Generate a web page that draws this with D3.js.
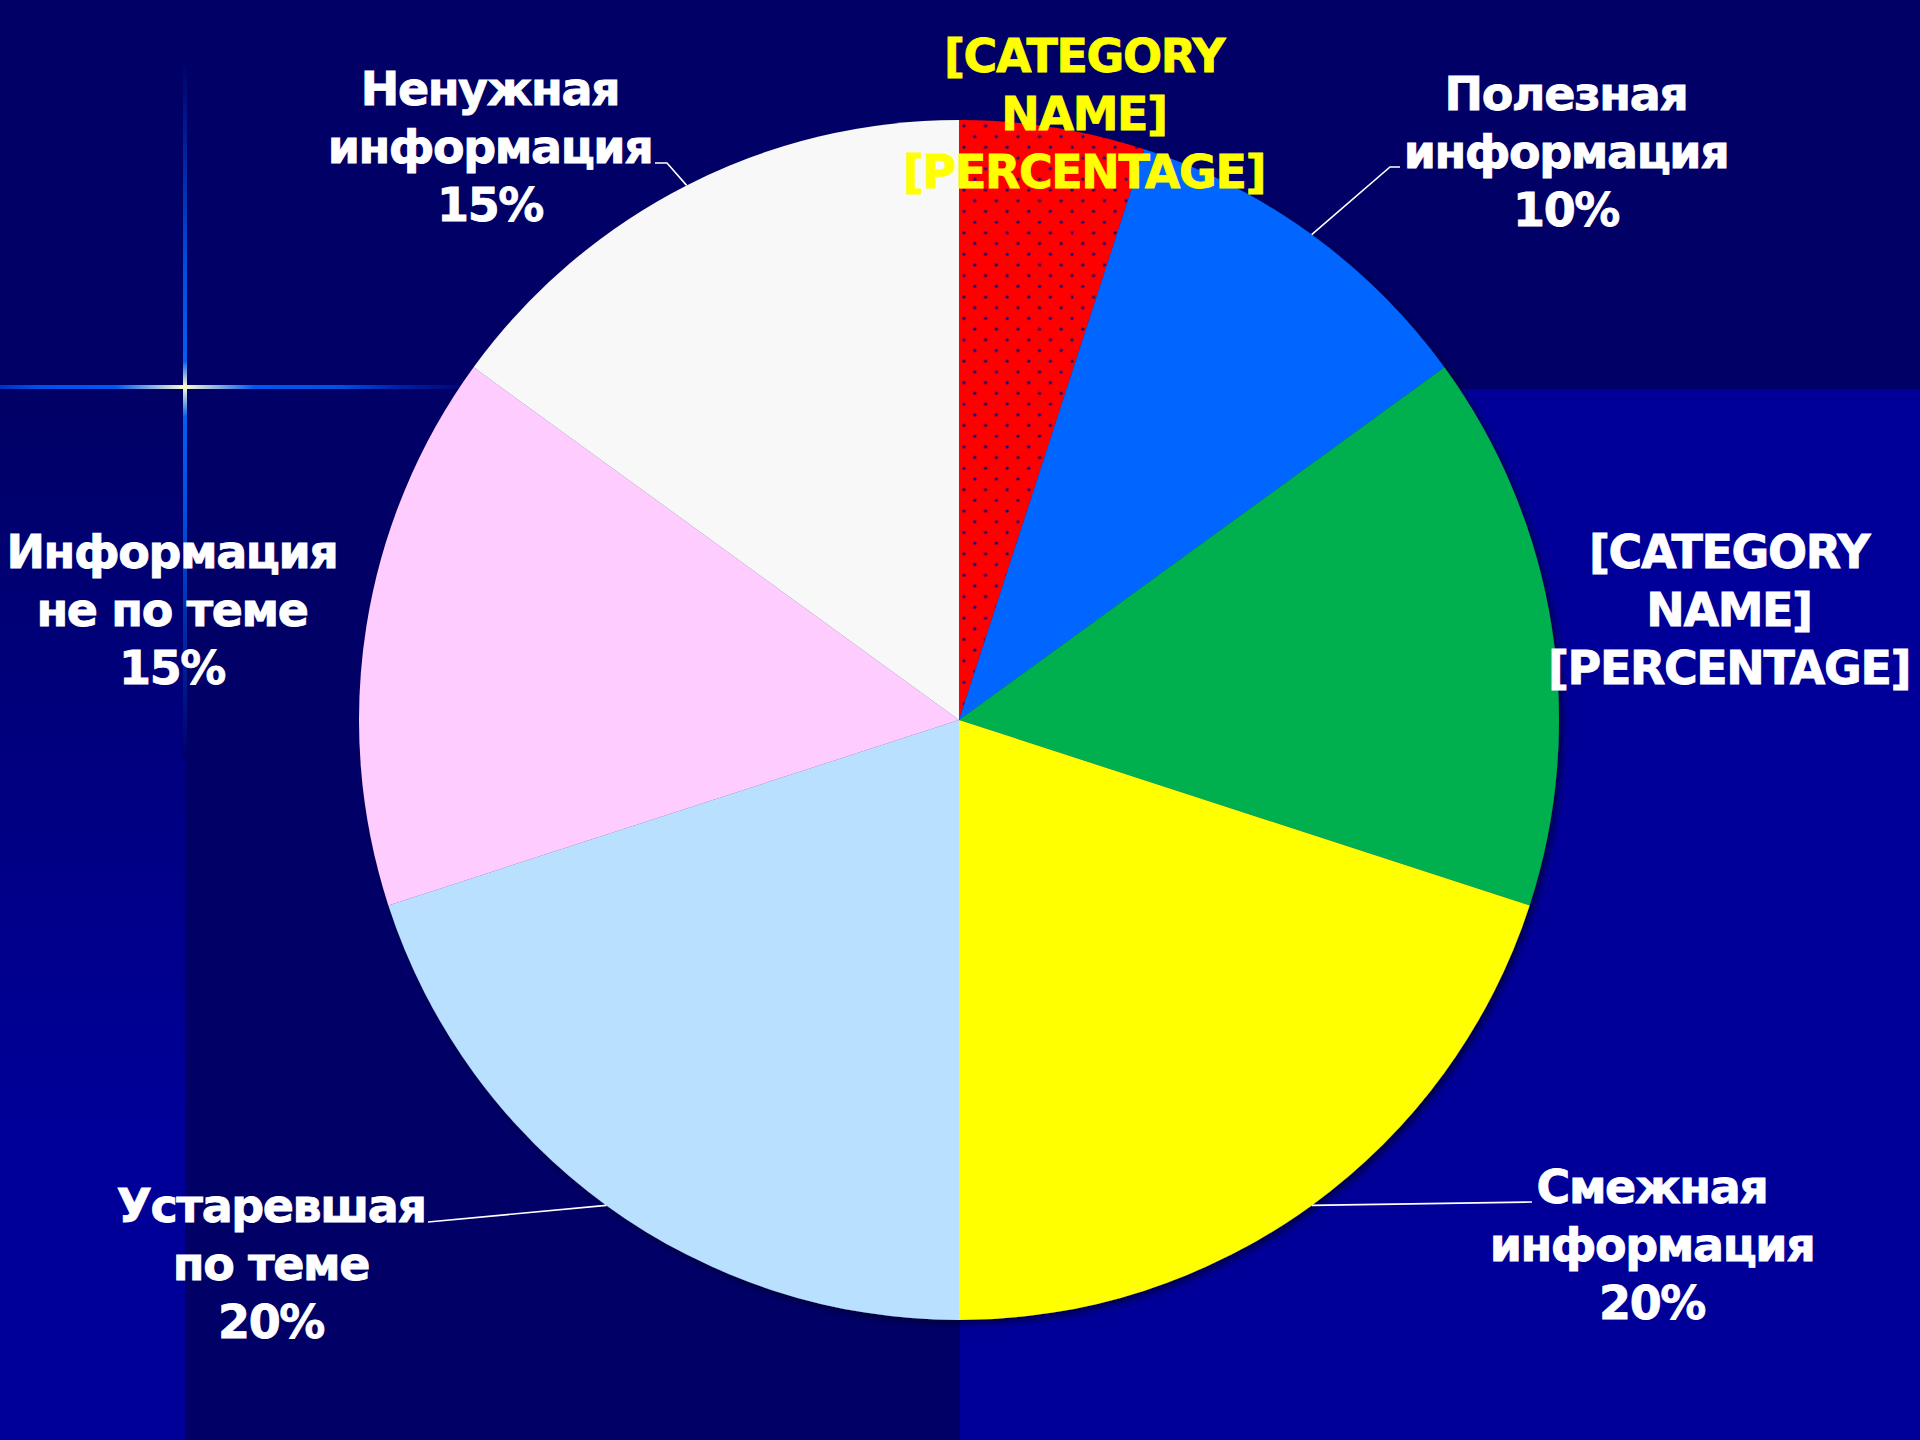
<!DOCTYPE html>
<html>
<head>
<meta charset="utf-8">
<script src="https://cdn.jsdelivr.net/npm/d3@7"></script>
<style>
  html, body { margin: 0; padding: 0; background: #000066; }
  svg { display: block; }
</style>
</head>
<body>
<script>
// slices clockwise from 12 o'clock
var categories = ["[CATEGORY NAME]", "Полезная информация", "[CATEGORY NAME]", "Смежная информация",
                  "Устаревшая по теме", "Информация не по теме", "Ненужная информация"];
var values = [5, 10, 15, 20, 20, 15, 15];
var nameLines = [["[CATEGORY", "NAME]"], ["Полезная", "информация"], ["[CATEGORY", "NAME]"],
                 ["Смежная", "информация"], ["Устаревшая", "по теме"], ["Информация", "не по теме"],
                 ["Ненужная", "информация"]];
var placeholderPct = [true, false, true, false, false, false, false];
var sliceColors = ["#ff0000", "#0066ff", "#00b050", "#ffff00", "#b9e1ff", "#ffccff", "#f8f8f8"];

var width = 1920, height = 1440;
var cx = 959, cy = 720, radius = 600;
var lineH = 58;

// label layout: centre x, first baseline y, and leader elbow (null = no leader)
var labelLayout = [
  {x: 1084, y: 72, elbow: null},
  {x: 1566, y: 110, elbow: [[1390, 167], [1400, 167]]},
  {x: 1729, y: 568, elbow: null},
  {x: 1652, y: 1203, elbow: [[1532, 1202]]},
  {x: 271, y: 1222, elbow: [[428, 1222]]},
  {x: 172, y: 568, elbow: null},
  {x: 490, y: 105, elbow: [[667, 163], [655, 163]]}
];

var svg = d3.select("body").append("svg").attr("width", width).attr("height", height);
var defs = svg.append("defs");

// background pieces
var leftGrad = defs.append("linearGradient").attr("id", "leftGrad")
  .attr("x1", 0).attr("y1", 0).attr("x2", 0).attr("y2", 1);
leftGrad.append("stop").attr("offset", "0%").attr("stop-color", "#000066");
leftGrad.append("stop").attr("offset", "70%").attr("stop-color", "#000099");
leftGrad.append("stop").attr("offset", "100%").attr("stop-color", "#000099");

svg.append("rect").attr("width", width).attr("height", height).attr("fill", "#000066");
svg.append("rect").attr("x", 0).attr("y", 388).attr("width", 185).attr("height", height - 388)
  .attr("fill", "url(#leftGrad)");
svg.append("rect").attr("x", 960).attr("y", 389).attr("width", width - 960).attr("height", height - 389)
  .attr("fill", "#000099");

// star flare
var hGrad = defs.append("linearGradient").attr("id", "hGrad").attr("gradientUnits", "userSpaceOnUse")
  .attr("x1", 0).attr("y1", 0).attr("x2", 480).attr("y2", 0);
[[0, "#0030c0"], [0.08, "#0050e8"], [0.24, "#0058f0"], [0.385, "#ffffd0"], [0.53, "#0058f0"],
 [0.71, "#0050e0"], [0.83, "#0020a8"], [1, "#000066"]].forEach(function(s) {
  hGrad.append("stop").attr("offset", s[0]).attr("stop-color", s[1]);
});
var vGrad = defs.append("linearGradient").attr("id", "vGrad").attr("gradientUnits", "userSpaceOnUse")
  .attr("x1", 0).attr("y1", 60).attr("x2", 0).attr("y2", 760);
[[0, "#000066"], [0.3, "#0050e0"], [0.43, "#0060f0"], [0.467, "#ffffd0"], [0.51, "#0060f0"],
 [0.65, "#0050e0"], [1, "#000066"]].forEach(function(s) {
  vGrad.append("stop").attr("offset", s[0]).attr("stop-color", s[1]);
});
svg.append("rect").attr("x", 0).attr("y", 385).attr("width", 480).attr("height", 4).attr("fill", "url(#hGrad)");
svg.append("rect").attr("x", 183).attr("y", 60).attr("width", 4).attr("height", 700).attr("fill", "url(#vGrad)");

// dotted fill for the first slice
var dots = defs.append("pattern").attr("id", "dots").attr("patternUnits", "userSpaceOnUse")
  .attr("width", 21.6).attr("height", 21.4);
dots.append("rect").attr("width", 21.6).attr("height", 21.4).attr("fill", sliceColors[0]);
dots.append("circle").attr("cx", 5).attr("cy", 5).attr("r", 1.6).attr("fill", "#1a1070");
dots.append("circle").attr("cx", 15.8).attr("cy", 15.7).attr("r", 1.6).attr("fill", "#1a1070");

var shadow = defs.append("filter").attr("id", "shadow").attr("x", "-10%").attr("y", "-10%")
  .attr("width", "120%").attr("height", "120%");
shadow.append("feDropShadow").attr("dx", 4).attr("dy", 4).attr("stdDeviation", 3)
  .attr("flood-color", "#000020").attr("flood-opacity", 0.6);

// pie
var pie = d3.pie().sort(null).value(function(d) { return d; });
var arcs = pie(values);
var arc = d3.arc().innerRadius(0).outerRadius(radius);
var edge = d3.arc().innerRadius(radius).outerRadius(radius);
var total = d3.sum(values);
var pct = d3.format(".0%");

var g = svg.append("g").attr("transform", "translate(" + cx + "," + cy + ")");
g.append("g").attr("filter", "url(#shadow)")
  .selectAll("path")
  .data(arcs)
  .enter().append("path")
    .attr("d", arc)
    .attr("fill", function(d, i) { return i === 0 ? "url(#dots)" : sliceColors[i]; });

// leader lines from slice edge at mid angle
arcs.forEach(function(d, i) {
  var lay = labelLayout[i];
  if (!lay.elbow) return;
  var p = edge.centroid(d);
  var pts = [[cx + p[0], cy + p[1]]].concat(lay.elbow);
  svg.append("path")
    .attr("d", d3.line()(pts))
    .attr("fill", "none")
    .attr("stroke", "#ffffff")
    .attr("stroke-width", 1.6);
});

// labels
var labels = svg.append("g")
  .attr("font-family", "'DejaVu Sans', Verdana, sans-serif")
  .attr("font-weight", "bold")
  .attr("font-size", 46)
  .attr("letter-spacing", "-1.4px")
  .attr("text-anchor", "middle");

arcs.forEach(function(d, i) {
  var lay = labelLayout[i];
  var col = i === 0 ? "#ffff00" : "#ffffff";
  var lines = nameLines[i].concat([placeholderPct[i] ? "[PERCENTAGE]" : pct(values[i] / total)]);
  var t = labels.append("text")
    .attr("x", lay.x).attr("y", lay.y)
    .attr("fill", col)
    .attr("stroke", col)
    .attr("stroke-width", 0.8);
  lines.forEach(function(s, k) {
    t.append("tspan").attr("x", lay.x).attr("y", lay.y + k * lineH).text(s);
  });
});
</script>
</body>
</html>
